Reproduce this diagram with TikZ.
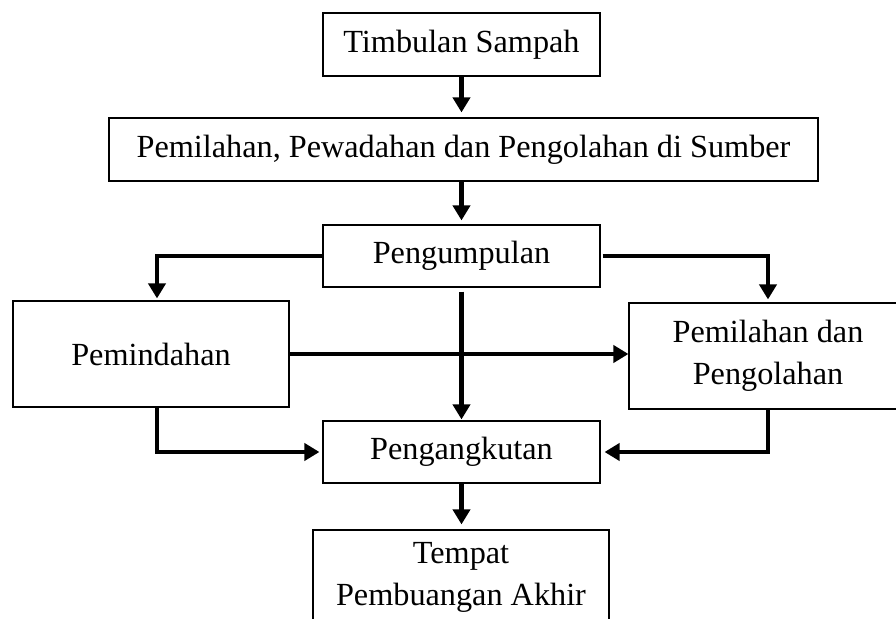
\documentclass[tikz,border=0pt]{standalone}
\usepackage{fontspec}
\setmainfont{Liberation Serif}
\usepackage{tikz}
\usetikzlibrary{positioning,arrows.meta}

\begin{document}
\begin{tikzpicture}[x=0.4pt, y=-0.4pt,
  box/.style={draw, line width=0.45pt, align=center, inner sep=0pt,
    font=\fontsize{12.9}{16.8}\selectfont},
  flow/.style={-{Triangle[width=6.8pt,length=6pt]}, line width=1.7pt}]
  \useasboundingbox (0,0) rectangle (896,619);
  \clip (0,0) rectangle (896,619);

  % main column
  \node[box, minimum width=110.8pt, minimum height=25.2pt] (timbulan) at (461.5,44.5) {Timbulan Sampah};
  \node[box, minimum width=283.6pt, minimum height=25.2pt] (sumber) at (463.5,149.5) {Pemilahan, Pewadahan dan Pengolahan di Sumber};
  \node[box, minimum width=110.8pt, minimum height=24.8pt] (pengumpulan) at (461.5,256) {Pengumpulan};
  \node[box, minimum width=110.8pt, minimum height=24.8pt] (pengangkutan) at (461.5,452) {Pengangkutan};
  \node[box, minimum width=118.4pt, minimum height=37.6pt] (tpa) at (461,577) {Tempat\\Pembuangan Akhir};

  % side boxes
  \node[box, minimum width=110.4pt, minimum height=42.4pt] (pemindahan) at (151,354) {Pemindahan};
  \node[box, minimum width=111.2pt, minimum height=42.4pt] (pengolahan) at (768,356) {Pemilahan dan\\Pengolahan};

  % arrows
  \draw[flow, shorten >=2pt] (timbulan.south) -- (timbulan.south |- sumber.north);
  \draw[flow, shorten >=1.6pt] (sumber.south -| pengumpulan.north) -- (pengumpulan.north);
  \draw[flow, shorten >=0.8pt] (pengumpulan.west) -| ([xshift=2.4pt]pemindahan.north);
  \draw[flow, shorten >=1.2pt] ([xshift=0.8pt]pengumpulan.east) -| (pengolahan.north);
  \draw[flow, shorten >=0.4pt] ([yshift=-1.6pt]pengumpulan.south) -- (pengangkutan.north);
  \draw[flow] (pemindahan.east) -- (pemindahan.east -| pengolahan.west);
  \draw[flow, shorten >=1.2pt] ([xshift=2.4pt]pemindahan.south) |- (pengangkutan.west);
  \draw[flow, shorten >=1.6pt] (pengolahan.south) |- (pengangkutan.east);
  \draw[flow, shorten >=2pt] (pengangkutan.south) -- (pengangkutan.south |- tpa.north);
\end{tikzpicture}
\end{document}
